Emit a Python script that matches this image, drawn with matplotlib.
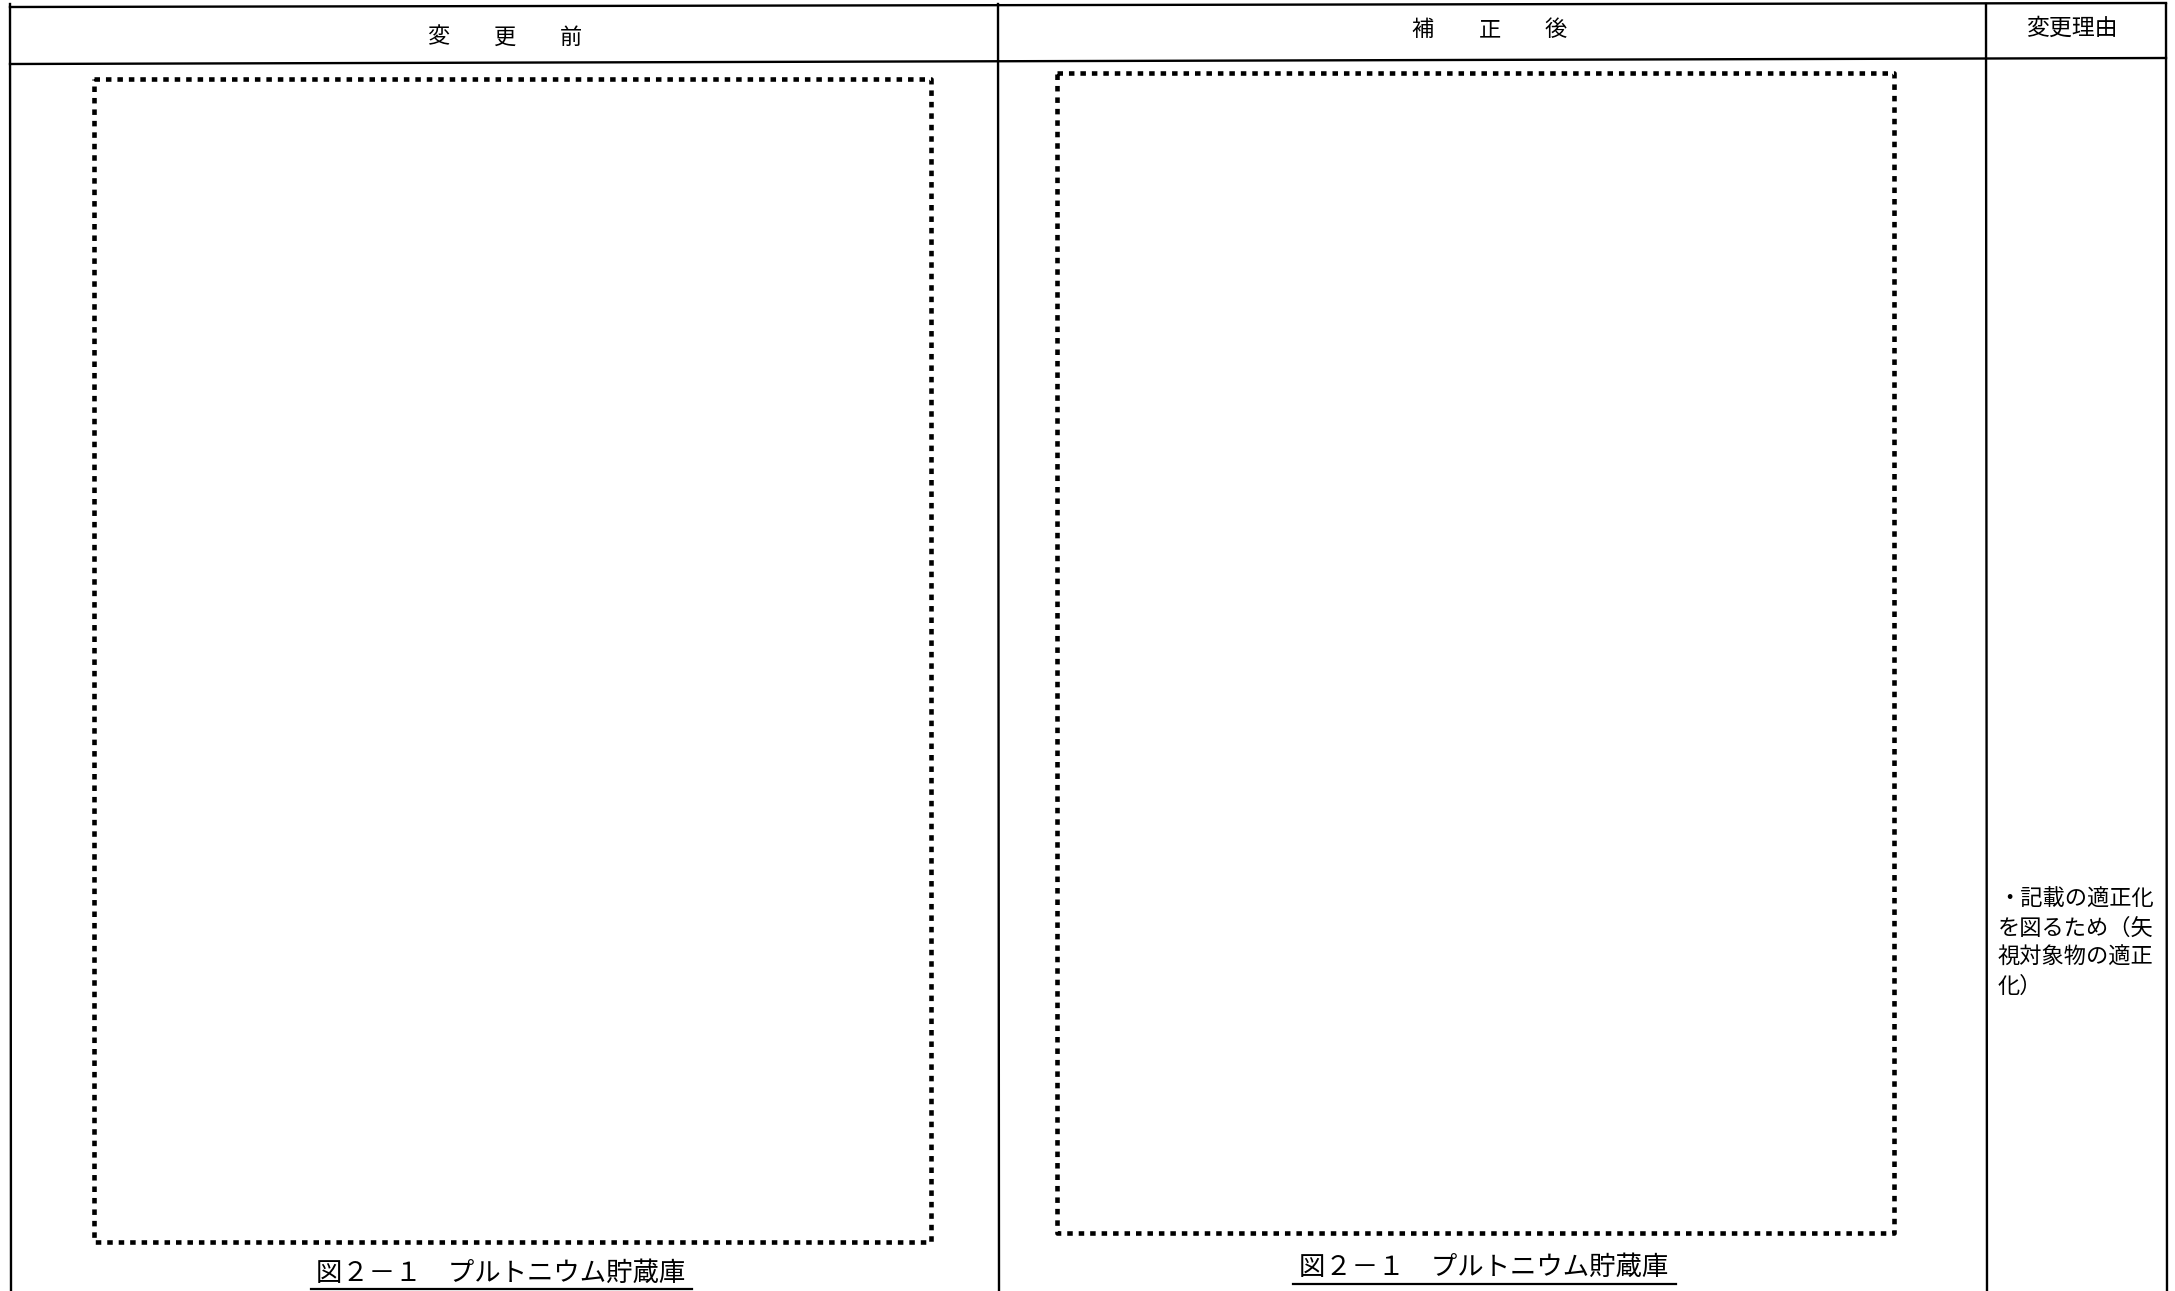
import matplotlib
matplotlib.use("Agg")
import matplotlib.pyplot as plt

plt.rcParams['font.family'] = ['Noto Sans CJK JP', 'DejaVu Sans']

# ---- content ----
header_before = ["変", "更", "前"]
header_after = ["補", "正", "後"]
header_reason = "変更理由"
caption_text = "図２－１　プルトニウム貯蔵庫"
reason_lines = ["・記載の適正化", "を図るため（矢", "視対象物の適正", "化）"]

W, H = 2175, 1291
fig = plt.figure(figsize=(W / 100, H / 100), dpi=100)
ax = fig.add_axes([0, 0, 1, 1])
ax.set_xlim(0, W)
ax.set_ylim(H, 0)
ax.axis('off')

# ---- table frame ----
lw_frame = 1.7
x_left, x_div1, x_div2, x_right = 10, 998, 1986, 2166
ax.plot([x_left, x_right], [7, 3], color='black', lw=lw_frame)
ax.plot([x_left, x_right], [64, 58], color='black', lw=lw_frame)
for x in (x_left, x_div1, x_div2, x_right):
    ax.plot([x, x + 1], [4, H], color='black', lw=lw_frame)

# ---- header texts ----
for ch, x in zip(header_before, [438, 505, 571]):
    ax.text(x, 37, ch, fontsize=16, ha='center', va='center')
for ch, x in zip(header_after, [1423, 1490, 1556]):
    ax.text(x, 30, ch, fontsize=16, ha='center', va='center')
ax.text(2072, 28, header_reason, fontsize=16.5, ha='center', va='center')

# ---- dashed frames ----
dash = dict(color='black', lw=3.3, linestyle=(0, (1.2, 1.3)),
            dash_capstyle='butt', solid_capstyle='butt')
for (x0, y0, x1, y1) in [(94, 79, 931, 1242), (1057, 73, 1894, 1233)]:
    ax.plot([x0, x1, x1, x0, x0], [y0, y0, y1, y1, y0], **dash)

# ---- captions ----
ax.text(501, 1273, caption_text, fontsize=19, ha='center', va='center')
ax.plot([311, 692], [1289, 1289], color='black', lw=1.6)
ax.text(1484, 1267, caption_text, fontsize=19, ha='center', va='center')
ax.plot([1293, 1676], [1284, 1284], color='black', lw=1.6)

# ---- reason column ----
for i, line in enumerate(reason_lines):
    ax.text(1998, 899 + i * 29, line, fontsize=16, ha='left', va='center')

fig.savefig("out.png", dpi=100, facecolor='white')
